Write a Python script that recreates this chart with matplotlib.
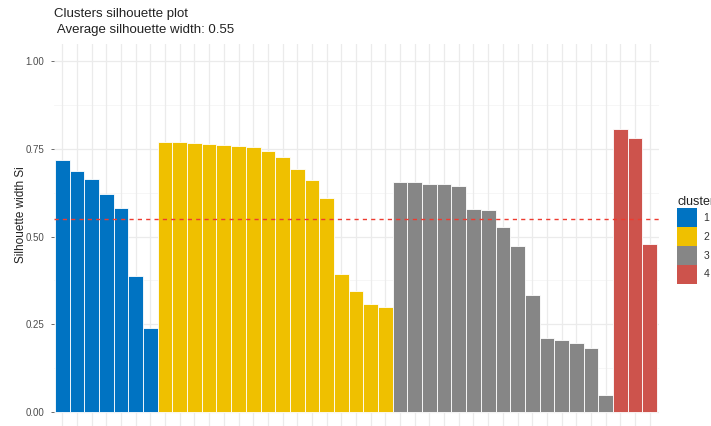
import numpy as np
import matplotlib
matplotlib.use("Agg")
import matplotlib.pyplot as plt
from matplotlib.patches import Patch

plt.rcParams['font.family'] = ['Liberation Sans', 'DejaVu Sans']

# silhouette widths per cluster, sorted as in the plot
sil_c1 = [0.718, 0.686, 0.663, 0.621, 0.582, 0.388, 0.238]
sil_c2 = [0.770, 0.769, 0.766, 0.763, 0.761, 0.759, 0.756, 0.745,
          0.728, 0.693, 0.661, 0.609, 0.392, 0.346, 0.308, 0.298]
sil_c3 = [0.655, 0.655, 0.650, 0.650, 0.645, 0.579, 0.576, 0.528,
          0.472, 0.334, 0.211, 0.206, 0.196, 0.181, 0.048]
sil_c4 = [0.805, 0.782, 0.480]
clusters = ["1", "2", "3", "4"]
avg_width = 0.55

colors = ["#0073C2", "#EFC000", "#868686", "#CD534C"]
groups = [sil_c1, sil_c2, sil_c3, sil_c4]

vals = []
cols = []
for g, c in zip(groups, colors):
    vals += g
    cols += [c] * len(g)
x = np.arange(1, len(vals) + 1)

W, H = 711, 426
fig = plt.figure(figsize=(W / 100, H / 100), dpi=100)
left, right = 53.5, 658.5
top = 43.5
ax = fig.add_axes([left / W, 0, (right - left) / W, (H - top) / H])

ax.set_xlim(0.4, len(vals) + 0.6)
y0 = 412
per = (412 - 61)
ax.set_ylim(-(H - y0) / per, 1.05)

# grid (theme_minimal look)
for yv in [0.125, 0.375, 0.625, 0.875]:
    ax.axhline(yv, color="#F3F3F3", lw=0.5, zorder=0)
for yv in [0, 0.25, 0.5, 0.75, 1.0]:
    ax.axhline(yv, color="#EBEBEB", lw=0.9, zorder=0)
for xv in x:
    ax.axvline(xv, color="#EBEBEB", lw=0.9, zorder=0)

ax.bar(x, vals, width=1.0, color=cols, edgecolor="white", linewidth=0.6, zorder=2)
ax.axhline(avg_width, color="#EE3B30", lw=1.0, ls=(0, (3, 3)), zorder=3)

for s in ax.spines.values():
    s.set_visible(False)
ax.set_yticks([0, 0.25, 0.5, 0.75, 1.0])
ax.set_yticklabels(["0.00", "0.25", "0.50", "0.75", "1.00"])
ax.set_xticks(x)
ax.set_xticklabels([])
ax.tick_params(axis="y", length=2.5, width=0.6, color="#555555", labelsize=7, labelcolor="#4D4D4D", pad=4)
ax.tick_params(axis="x", length=2.5, width=0.6, color="#DDDDDD")
ax.set_ylabel("Silhouette width Si", fontsize=8.5, color="#222222")
ax.yaxis.set_label_coords(-(left - 27) / (right - left), (H - 215) / (H - top))

fig.text(54 / W, 1 - 14 / H, "Clusters silhouette plot", fontsize=9.5, color="#222222", va="center", ha="left")
fig.text(54 / W, 1 - 30 / H, " Average silhouette width: 0.55", fontsize=9.5, color="#222222", va="center", ha="left")

handles = [Patch(facecolor=c, edgecolor="none") for c in colors]
leg = fig.legend(handles, clusters, title="cluster", loc="upper left",
                 bbox_to_anchor=(669 / W, 1 - 188 / H), frameon=False,
                 fontsize=7.5, title_fontsize=9, handlelength=1.9, handleheight=2.4,
                 labelspacing=0.0, handletextpad=0.6, borderpad=0.3, alignment="left")
for t in leg.get_texts():
    t.set_color("#333333")
leg.get_title().set_color("#222222")

fig.savefig("out.png", dpi=100)
